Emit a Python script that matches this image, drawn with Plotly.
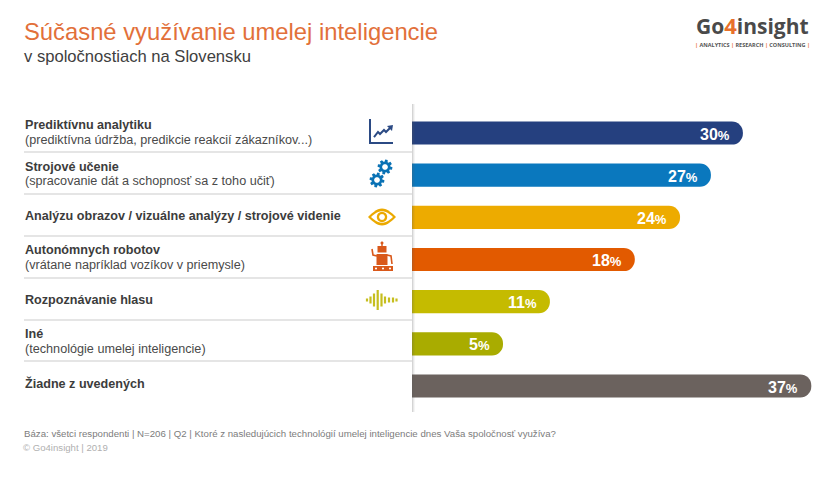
import math
import plotly.graph_objects as go

categories = ["Prediktívnu analytiku", "Strojové učenie",
              "Analýzu obrazov / vizuálne analýzy / strojové videnie",
              "Autonómnych robotov", "Rozpoznávanie hlasu", "Iné", "Žiadne z uvedených"]
details = ["(prediktívna údržba, predikcie reakcií zákazníkov...)",
           "(spracovanie dát a schopnosť sa z toho učiť)", "",
           "(vrátane napríklad vozíkov v priemysle)", "",
           "(technológie umelej inteligencie)", ""]
printed_values = [30, 27, 24, 18, 11, 5, 37]
drawn_lengths = [30.0, 27.1, 24.3, 20.2, 12.5, 8.25, 36.2]
colors = ["#25407F", "#0A78BE", "#EDAB00", "#E25A00", "#C5BB00", "#A9AC00", "#6B625E"]
title = "Súčasné využívanie umelej inteligencie"
subtitle = "v spoločnostiach na Slovensku"
base_note = "Báza: všetci respondenti | N=206 | Q2 | Ktoré z nasledujúcich technológií umelej inteligencie dnes Vaša spoločnosť využíva?"
copyright_note = "© Go4insight | 2019"

W, H = 840, 480
FONT = "Liberation Sans, Arial, sans-serif"
px = lambda x: x / W
py = lambda y: 1 - y / H


def path(points, close=True):
    s = "M" + " L".join(f"{px(x):.5f},{py(y):.5f}" for x, y in points)
    return s + (" Z" if close else "")


def poly(points, color):
    return dict(type="path", xref="paper", yref="paper", path=path(points), fillcolor=color,
                line=dict(width=0), layer="above")


def stroke(points, color, width=2):
    return dict(type="path", xref="paper", yref="paper", path=path(points, False),
                line=dict(color=color, width=width), layer="above")


def rect(x0, y0, x1, y1, color):
    return poly([(x0, y0), (x1, y0), (x1, y1), (x0, y1)], color)


def circle(cx, cy, r, color):
    return poly([(cx + r * math.cos(i * math.pi / 16), cy + r * math.sin(i * math.pi / 16)) for i in range(32)], color)


def gear(cx, cy, r, color):
    pts = []
    for t in range(8):
        a = t * math.pi / 4 + 0.2
        for da, rr in [(-0.3, r * .72), (-0.17, r), (0.17, r), (0.3, r * .72)]:
            pts.append((cx + rr * math.cos(a + da), cy + rr * math.sin(a + da)))
    return [poly(pts, color), circle(cx, cy, r * .38, "white")]


shapes = []
for y in [152, 194, 236, 278, 320, 361]:
    shapes.append(dict(type="line", xref="paper", yref="paper", x0=px(24), x1=px(412), y0=py(y), y1=py(y),
                       line=dict(color="#DCDCDC", width=1.3), layer="below"))
for i, op in enumerate([.26, .14, .06]):
    shapes.append(dict(type="line", xref="paper", yref="paper", x0=px(412.5 + i), x1=px(412.5 + i),
                       y0=py(104), y1=py(412), line=dict(color=f"rgba(90,90,90,{op})", width=1), layer="above"))

navy = "#2B4A84"
shapes += [stroke([(370, 119), (370, 143), (393, 143)], navy, 2),
           stroke([(374, 137), (378, 132), (380, 134), (384, 130), (386, 132), (391, 127)], navy, 2),
           poly([(387, 126), (393, 125), (392, 131)], navy)]
blue = "#0A72B5"
shapes += gear(385, 167, 7.5, blue) + gear(377, 180, 7.5, blue)
amber = "#EBA900"
eye_top = [(368 + i, 217 - 8.5 * math.sin(math.pi * i / 28)) for i in range(0, 29, 2)]
eye_bot = [(396 - i, 217 + 8.5 * math.sin(math.pi * i / 28)) for i in range(2, 27, 2)]
eye_in_top = [(371 + i, 217 - 5.8 * math.sin(math.pi * i / 22)) for i in range(0, 23, 2)]
eye_in_bot = [(393 - i, 217 + 5.8 * math.sin(math.pi * i / 22)) for i in range(2, 21, 2)]
shapes += [poly(eye_top + eye_bot, amber), poly(eye_in_top + eye_in_bot, "white"),
           circle(382, 217, 5.2, amber), circle(382, 217, 2.9, "white")]
rust = "#D9581A"
shapes += [rect(381.3, 243, 382.7, 246, rust), circle(382, 243, 1.5, rust),
           rect(377.5, 246, 386.5, 252.5, rust), rect(376.5, 254, 387.5, 265, rust),
           rect(373, 266, 393, 271, rust),
           stroke([(372, 249), (373, 255), (377, 256)], rust, 1.6),
           stroke([(387, 255), (391, 256), (392, 264)], rust, 1.6),
           circle(376, 268.5, 1, "white"), circle(383, 268.5, 1, "white"), circle(390, 268.5, 1, "white")]
olive = "#C6BE1E"
for x, h in zip([367, 370.5, 374, 377.7, 381.5, 385, 389, 393, 396.5], [3, 7, 13, 20, 13, 7, 5, 5, 3]):
    shapes.append(rect(x - 1.1, 300 - h / 2, x + 1.1, 300 + h / 2, olive))

ann = []


def text(x, y, t, size, color, bold=False, family=FONT, anchor="left"):
    ann.append(dict(xref="paper", yref="paper", x=px(x), y=py(y), text=f"<b>{t}</b>" if bold else t,
                    showarrow=False, xanchor=anchor, yanchor="middle", borderpad=0,
                    font=dict(family=family, size=size, color=color)))


text(23, 32, title, 23.8, "#E2703A")
text(23, 56, subtitle, 16.6, "#404040")
first_lines = [124.5, 166.5, 215.5, 249.5, 299.5, 333.5, 383.5]
second_lines = [140, 181, None, 265, None, 349, None]
for name, note, y1, y2 in zip(categories, details, first_lines, second_lines):
    text(23.5, y1, name, 12.6, "#3C3C3C", True)
    if note:
        text(23.5, y2, note, 12.65, "#4A4A4A")
text(23, 433, base_note, 9.67, "#7C7C7C")
text(22, 447, copyright_note, 9.6, "#B0B0B0")
text(752.5, 25.5, '<span style="color:#4A4A4A">Go</span><span style="color:#E8702A;font-size:22px">4</span>'
                  '<span style="color:#4A4A4A">insight</span>', 21, "#4A4A4A", True, "Open Sans", "center")
text(752.5, 45, '<span style="color:#E8702A">|</span> ANALYTICS <span style="color:#E8702A">|</span> RESEARCH '
                '<span style="color:#E8702A">|</span> CONSULTING <span style="color:#E8702A">|</span>',
     5.5, "#555555", True, "Open Sans", "center")

for cat, length, val in zip(categories, drawn_lengths, printed_values):
    ann.append(dict(xref="x", yref="y", x=length, y=cat, xanchor="right", yanchor="middle", xshift=-11, yshift=-1,
                    showarrow=False, text=f'<b>{val}</b><span style="font-size:13px"><b>%</b></span>',
                    font=dict(family=FONT, size=16, color="white")))

fig = go.Figure(go.Bar(x=drawn_lengths, y=categories, orientation="h", marker=dict(color=colors, line_width=0, cornerradius=11.5),
                       width=0.55, hoverinfo="skip"))
plot_top, plot_bottom = 133 - 21.08, 386 + 21.08
fig.update_layout(width=W, height=H, margin=dict(l=0, r=0, t=0, b=0), autosize=False,
                  paper_bgcolor="white", plot_bgcolor="rgba(0,0,0,0)", showlegend=False,
                  shapes=shapes, annotations=ann,
                  xaxis=dict(domain=[412 / W, 1], range=[0, 428 / 11.03], visible=False),
                  yaxis=dict(domain=[1 - plot_bottom / H, 1 - plot_top / H], autorange="reversed", visible=False,
                             type="category", categoryorder="array", categoryarray=categories))
fig.write_html("out.html", post_script="document.body.style.margin='0';document.documentElement.style.overflow='hidden';",
               config={"displayModeBar": False})
